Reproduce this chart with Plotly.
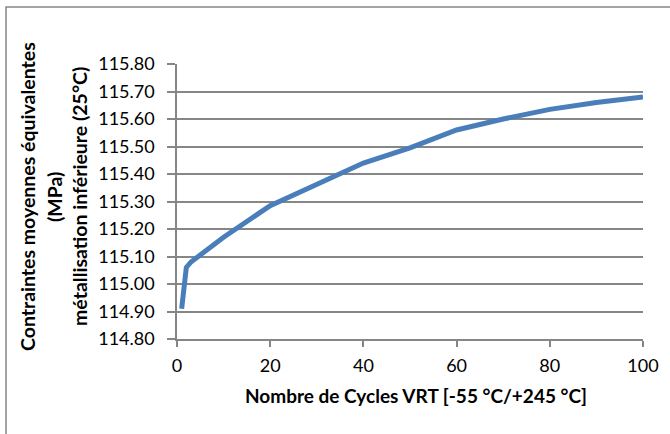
import plotly.graph_objects as go

cycles = [1, 2, 3, 10, 20, 30, 40, 50, 60, 70, 80, 90, 100]
stress = [114.91, 115.06, 115.08, 115.17, 115.285, 115.365, 115.44, 115.495, 115.56, 115.60, 115.635, 115.66, 115.68]

y_ticks = [114.80, 114.90, 115.00, 115.10, 115.20, 115.30, 115.40, 115.50, 115.60, 115.70, 115.80]
x_ticks = [0, 20, 40, 60, 80, 100]

y_title_lines = ["Contraintes moyennes équivalentes", "(MPa)", "métallisation inférieure (25°C)"]
x_title = "Nombre de Cycles VRT [-55 °C/+245 °C]"

FONT = "Lato"
L, R, T, B = 177, 27, 64, 95
PW, PH = 670 - L - R, 434 - T - B

fig = go.Figure()
fig.add_trace(go.Scatter(x=cycles, y=stress, mode="lines",
                         line=dict(color="#4a7ebb", width=5), showlegend=False))

fig.update_layout(
    width=670, height=434,
    margin=dict(l=L, r=R, t=T, b=B),
    paper_bgcolor="white", plot_bgcolor="white",
    font=dict(family=FONT, size=18, color="black"),
    xaxis=dict(range=[0, 100], tickvals=x_ticks, ticktext=[str(v) for v in x_ticks],
               showgrid=False, zeroline=False, showline=True, linecolor="#868686", linewidth=1.5,
               ticks="outside", ticklen=6, tickcolor="#868686", tickwidth=1.5,
               ticklabelstandoff=4,
               tickfont=dict(family=FONT, size=18)),
    yaxis=dict(range=[114.80, 115.80], tickvals=y_ticks, ticktext=[f"{v:.2f}" for v in y_ticks],
               showgrid=True, gridcolor="#868686", gridwidth=1.5, zeroline=False,
               showline=True, linecolor="#868686", linewidth=1.5,
               ticks="outside", ticklen=8, tickcolor="#868686", tickwidth=1.5,
               ticklabelstandoff=9,
               tickfont=dict(family=FONT, size=18)),
    shapes=[dict(type="rect", xref="paper", yref="paper",
                 x0=(6 - L) / PW, x1=(700 - L) / PW,
                 y0=-(470 - T - PH) / PH, y1=(T - 7 + PH) / PH,
                 line=dict(color="#868686", width=1.5))],
)

xs = [27, 54, 79]
for t, xp in zip(y_title_lines, xs):
    fig.add_annotation(text=t, textangle=-90, xref="paper", yref="paper",
                       x=(xp - L) / PW, y=(434 - B - 197) / PH, xanchor="center", yanchor="middle",
                       showarrow=False, font=dict(family=FONT, size=19.5, color="black", weight="bold"))

fig.add_annotation(text=x_title, xref="paper", yref="paper", x=(416 - L) / PW, y=-(395 - (434 - B)) / PH,
                   xanchor="center", yanchor="middle", showarrow=False,
                   font=dict(family=FONT, size=19, color="black", weight="bold"))

fig.write_html("out.html", config={"displayModeBar": False},
               post_script="document.body.style.margin='0';document.body.style.overflow='hidden';")
